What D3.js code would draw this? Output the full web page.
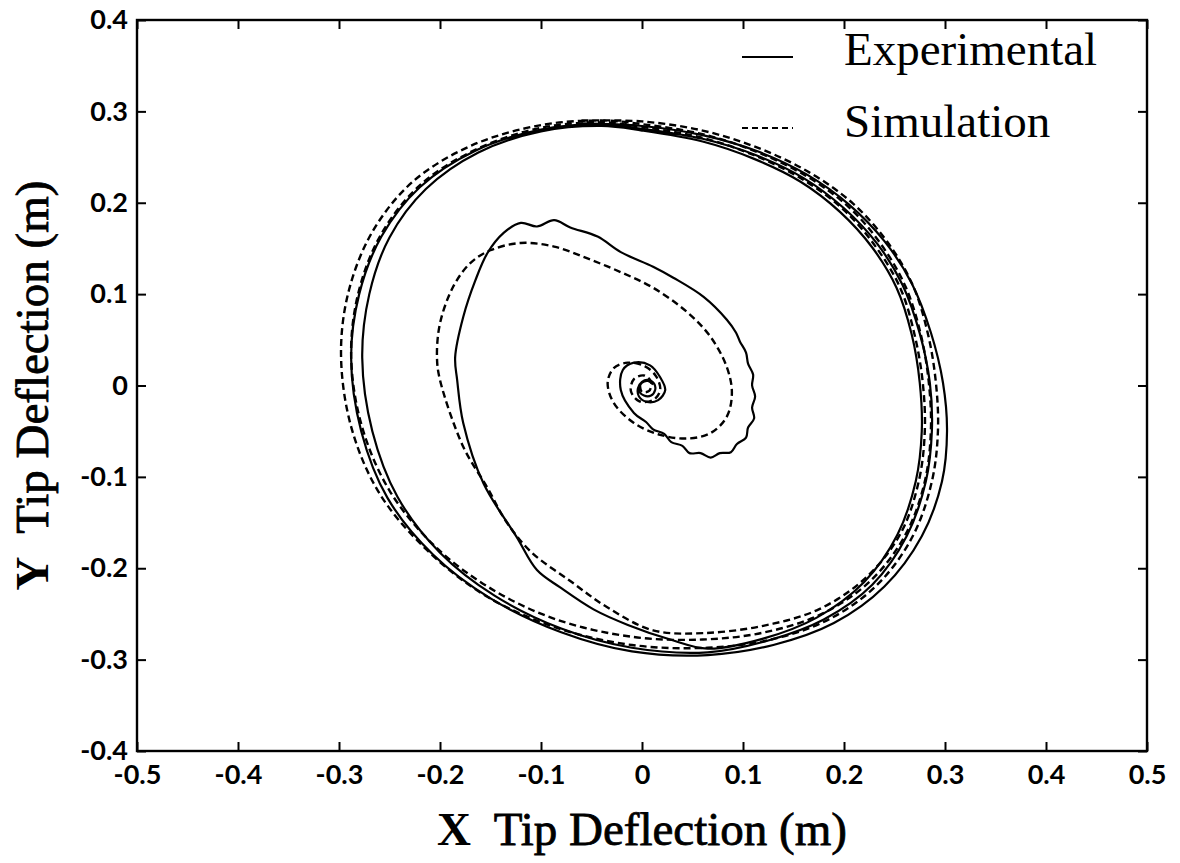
<!DOCTYPE html>
<html><head><meta charset="utf-8">
<script src="https://cdn.jsdelivr.net/npm/d3@7"></script>
<style>body{margin:0;background:#fff} svg{display:block}</style>
</head><body><svg id="c" width="1180" height="863"></svg>
<script>
// ---------- data ----------
const xTicks = [-0.5,-0.4,-0.3,-0.2,-0.1,0,0.1,0.2,0.3,0.4,0.5];
const xTickLabels = ["-0.5","-0.4","-0.3","-0.2","-0.1","0","0.1","0.2","0.3","0.4","0.5"];
const yTicks = [-0.4,-0.3,-0.2,-0.1,0,0.1,0.2,0.3,0.4];
const yTickLabels = ["-0.4","-0.3","-0.2","-0.1","0","0.1","0.2","0.3","0.4"];
const seriesNames = ["Experimental","Simulation"];

// Experimental tip path (x, y in m), clockwise, outer loops
const expLoop1 = [[-0.06,0.287],[0.0,0.284],[0.06,0.274],[0.115,0.256],[0.163,0.231],[0.205,0.198],[0.24,0.158],[0.267,0.112],[0.286,0.058],[0.298,0.003],[0.302,-0.05],[0.297,-0.105],[0.277,-0.165],[0.24,-0.22],[0.19,-0.26],[0.13,-0.284],[0.065,-0.295],[-0.01,-0.291],[-0.08,-0.27],[-0.15,-0.233],[-0.207,-0.185],[-0.252,-0.123],[-0.278,-0.05],[-0.288,0.03],[-0.28,0.1],[-0.258,0.163],[-0.22,0.217],[-0.165,0.257],[-0.1,0.28],[-0.04,0.286]];
const expLoop2 = [[0.0,0.281],[0.06,0.27],[0.113,0.252],[0.16,0.227],[0.2,0.194],[0.233,0.155],[0.258,0.11],[0.275,0.057],[0.285,0.003],[0.287,-0.05],[0.281,-0.105],[0.262,-0.165],[0.228,-0.218],[0.18,-0.256],[0.125,-0.279],[0.065,-0.292],[-0.01,-0.287],[-0.08,-0.266],[-0.146,-0.23],[-0.2,-0.183],[-0.242,-0.122],[-0.267,-0.05],[-0.277,0.03],[-0.27,0.1],[-0.25,0.162],[-0.214,0.215],[-0.162,0.255],[-0.1,0.278],[-0.04,0.284]];
const expLoop3 = [[0.0,0.279],[0.06,0.267],[0.111,0.248],[0.157,0.223],[0.196,0.19],[0.228,0.151],[0.252,0.107],[0.267,0.056],[0.275,0.003],[0.277,-0.05],[0.271,-0.105],[0.253,-0.163],[0.22,-0.215],[0.173,-0.254],[0.12,-0.277],[0.065,-0.288],[0.028,-0.278],[-0.014,-0.262],[-0.048,-0.245],[-0.081,-0.221],[-0.104,-0.202],[-0.124,-0.166],[-0.157,-0.107],[-0.177,-0.041],[-0.183,0.006]];
const expInner = [[-0.185,0.031],[-0.177,0.075],[-0.165,0.115],[-0.153,0.145],[-0.137,0.167],[-0.12,0.178],[-0.104,0.174],[-0.087,0.181],[-0.071,0.173],[-0.044,0.163],[-0.021,0.146],[0.011,0.13],[0.031,0.118],[0.061,0.097],[0.084,0.072],[0.093,0.058],[0.097,0.048],[0.103,0.036],[0.105,0.024],[0.11,0.012],[0.109,0.0],[0.112,-0.012],[0.109,-0.024],[0.111,-0.036],[0.105,-0.046],[0.103,-0.057],[0.094,-0.064],[0.088,-0.073],[0.077,-0.074],[0.068,-0.079],[0.058,-0.074],[0.047,-0.074],[0.04,-0.066],[0.029,-0.062],[0.022,-0.053],[0.011,-0.048],[0.004,-0.04],[-0.008,-0.03],[-0.021,-0.005],[-0.019,0.017],[-0.008,0.025],[0.008,0.022],[0.018,0.009],[0.023,-0.005],[0.016,-0.016],[0.005,-0.018],[-0.003,-0.012],[-0.004,-0.003],[0.0,0.004],[0.006,0.006],[0.012,0.002],[0.013,-0.005],[0.009,-0.011],[0.002,-0.011],[-0.003,-0.005],[0.0,0.003],[0.006,0.005],[0.011,0.001]];

// Simulation tip path
const simLoop1 = [[-0.06,0.29],[0.0,0.289],[0.06,0.279],[0.115,0.26],[0.166,0.233],[0.209,0.199],[0.243,0.157],[0.268,0.11],[0.283,0.057],[0.291,0.003],[0.293,-0.05],[0.287,-0.105],[0.268,-0.165],[0.233,-0.218],[0.185,-0.256],[0.128,-0.278],[0.065,-0.287],[-0.01,-0.284],[-0.085,-0.265],[-0.155,-0.23],[-0.213,-0.18],[-0.26,-0.118],[-0.288,-0.045],[-0.298,0.035],[-0.29,0.105],[-0.266,0.17],[-0.226,0.224],[-0.168,0.263],[-0.1,0.285],[-0.04,0.29]];
const simLoop2 = [[0.0,0.286],[0.06,0.275],[0.113,0.256],[0.163,0.229],[0.205,0.195],[0.237,0.154],[0.261,0.108],[0.276,0.056],[0.284,0.003],[0.286,-0.05],[0.28,-0.105],[0.261,-0.163],[0.226,-0.214],[0.178,-0.25],[0.122,-0.27],[0.06,-0.278],[-0.01,-0.275],[-0.085,-0.256],[-0.15,-0.222],[-0.205,-0.176],[-0.25,-0.115],[-0.278,-0.042],[-0.288,0.035],[-0.28,0.105],[-0.257,0.168],[-0.218,0.221],[-0.163,0.259],[-0.1,0.282],[-0.04,0.288]];
const simLoop3 = [[0.0,0.283],[0.06,0.271],[0.111,0.252],[0.16,0.225],[0.2,0.192],[0.232,0.151],[0.256,0.106],[0.27,0.055],[0.278,0.003],[0.28,-0.05],[0.274,-0.105],[0.256,-0.162],[0.222,-0.21],[0.175,-0.245],[0.12,-0.263],[0.06,-0.271],[0.011,-0.268],[-0.034,-0.243],[-0.071,-0.214],[-0.11,-0.182],[-0.135,-0.148],[-0.153,-0.112],[-0.177,-0.067],[-0.2,0.006]];
const simInner = [[-0.203,0.031],[-0.2,0.068],[-0.187,0.108],[-0.17,0.134],[-0.15,0.148],[-0.12,0.156],[-0.087,0.152],[-0.054,0.139],[-0.021,0.124],[0.011,0.107],[0.045,0.08],[0.068,0.053],[0.084,0.02],[0.089,-0.008],[0.084,-0.034],[0.068,-0.052],[0.045,-0.058],[0.018,-0.054],[-0.008,-0.041],[-0.028,-0.019],[-0.034,0.003],[-0.028,0.019],[-0.014,0.025],[0.003,0.021],[0.014,0.01],[0.018,-0.005],[0.011,-0.016],[-0.003,-0.017],[-0.011,-0.006],[-0.008,0.007],[0.002,0.011],[0.009,0.004],[0.007,-0.006],[0.0,-0.007],[-0.002,0.0]];

// ---------- drawing ----------
const svg = d3.select("#c");
const L = 137, R = 1147, T = 20, B = 751;
const x = d3.scaleLinear().domain([-0.5,0.5]).range([L,R]);
const y = d3.scaleLinear().domain([-0.4,0.4]).range([B,T]);

const tickFont = "Lato, 'Open Sans', sans-serif";
const serif = "'Liberation Serif', 'Times New Roman', serif";

function styleAxis(g){
  g.select(".domain").remove();
  g.selectAll(".tick line").attr("stroke","#000").attr("stroke-width",2);
  g.selectAll(".tick text").attr("fill","#000").style("font-family",tickFont)
    .style("font-size","27px").style("font-weight","bold");
}

svg.append("g").attr("transform",`translate(0,${B})`)
  .call(d3.axisBottom(x).tickValues(xTicks).tickSize(-9).tickPadding(14)
    .tickFormat((d,i)=>xTickLabels[i])).call(styleAxis);
svg.append("g").attr("transform",`translate(${L},0)`)
  .call(d3.axisLeft(y).tickValues(yTicks).tickSize(-9).tickPadding(9)
    .tickFormat((d,i)=>yTickLabels[i])).call(styleAxis);
svg.append("g").attr("transform",`translate(0,${T})`)
  .call(d3.axisTop(x).tickValues(xTicks).tickSize(-9).tickFormat("")).call(styleAxis);
svg.append("g").attr("transform",`translate(${R},0)`)
  .call(d3.axisRight(y).tickValues(yTicks).tickSize(-9).tickFormat("")).call(styleAxis);

svg.append("rect").attr("x",L).attr("y",T).attr("width",R-L).attr("height",B-T)
  .attr("fill","none").attr("stroke","#000").attr("stroke-width",2.4);

const line = d3.line().x(d=>x(d[0])).y(d=>y(d[1])).curve(d3.curveCatmullRom.alpha(0.5));
const expPath = [].concat(expLoop1, expLoop2, expLoop3, expInner);
const simPath = [].concat(simLoop1, simLoop2, simLoop3, simInner);

svg.append("path").datum(simPath).attr("d",line).attr("fill","none")
  .attr("stroke","#000").attr("stroke-width",2.4).attr("stroke-dasharray","7,4");
svg.append("path").datum(expPath).attr("d",line).attr("fill","none")
  .attr("stroke","#000").attr("stroke-width",2.2);

// legend
const lg = svg.append("g");
lg.append("line").attr("x1",742).attr("x2",793).attr("y1",57).attr("y2",57)
  .attr("stroke","#000").attr("stroke-width",2.2);
lg.append("line").attr("x1",742).attr("x2",793).attr("y1",128).attr("y2",128)
  .attr("stroke","#000").attr("stroke-width",2.2).attr("stroke-dasharray","6,4");
lg.append("text").attr("x",844).attr("y",65).text(seriesNames[0])
  .style("font-family",serif).style("font-size","47px");
lg.append("text").attr("x",844).attr("y",137).text(seriesNames[1])
  .style("font-family",serif).style("font-size","47px");

// axis titles
const xt = svg.append("text").attr("x",(L+R)/2).attr("y",845).attr("text-anchor","middle")
  .style("font-family",serif).style("font-size","47px");
xt.append("tspan").style("font-weight","bold").text("X");
xt.append("tspan").attr("stroke","#000").attr("stroke-width",0.8).text("\u00a0 Tip Deflection (m)");

const yt = svg.append("text").attr("transform",`translate(48,${(T+B)/2}) rotate(-90)`)
  .attr("text-anchor","middle").style("font-family",serif).style("font-size","47px");
yt.append("tspan").style("font-weight","bold").text("Y");
yt.append("tspan").attr("stroke","#000").attr("stroke-width",0.8).text("\u00a0 Tip Deflection (m)");
</script></body></html>
